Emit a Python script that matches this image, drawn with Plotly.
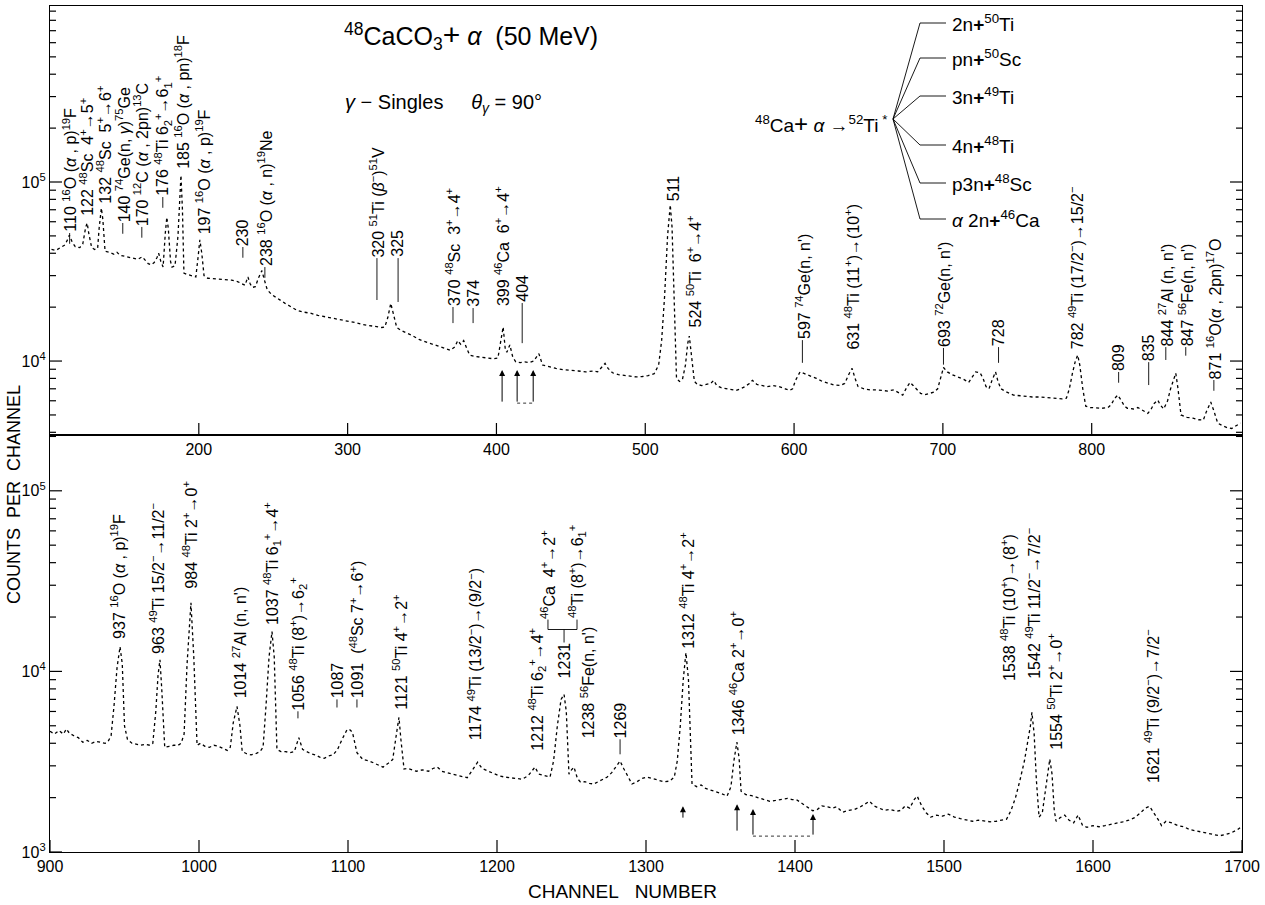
import math
import plotly.graph_objects as go

# ---------------- spectrum data ----------------
top_channel = [101, 104, 107, 110, 112, 113, 115, 117, 120, 122, 124, 125, 126, 128, 130, 132, 133, 134.5, 135.5, 137,
               140, 143, 145, 147, 150, 153, 156, 159, 162, 164, 166, 168, 170, 172, 173, 174.5, 176, 177.5, 178.5, 179.5,
               181, 182, 184, 186, 187.5, 188, 189, 190, 192, 195, 198, 199.5, 200.7, 202, 203.5, 206, 210, 214, 218, 222,
               226, 229, 231, 233, 234.5, 236, 238, 240, 242.4, 244, 246, 249, 252, 255, 258, 262, 266, 270, 275, 280,
               285, 290, 295, 300, 305, 310, 315, 320, 323, 325, 327, 329, 331, 333, 336, 340, 344, 348, 352, 356,
               360, 365, 369, 372, 374, 376, 378, 380, 382, 386, 390, 394, 398, 401, 403, 404.5, 406, 407, 409, 411,
               413, 416, 419, 422, 425, 428.5, 431, 435, 440, 445, 450, 455, 460, 465, 468, 471, 473, 475, 478, 482,
               486, 490, 494, 498, 502, 506, 509, 511, 513, 515, 516.8, 518, 519.5, 521, 523, 525, 527, 528.5, 529.6, 531,
               533, 535, 538, 541, 544, 546, 548, 551, 555, 558, 561, 564, 567, 570, 572, 575, 578, 582, 586, 590,
               594, 597, 599, 601, 604, 607, 611, 615, 619, 623, 627, 631, 634, 637, 639, 641, 643, 647, 651, 655,
               659, 663, 667, 670, 673, 676, 678, 680, 682, 685, 688, 691, 694, 696.5, 698.5, 700.4, 703, 706, 710, 714,
               717.3, 720, 722, 725, 727, 729, 731, 733, 735.4, 737, 739, 743, 747.5, 752, 756, 760, 765, 770, 775, 780,
               783, 785, 787, 789, 790.6, 792, 794, 796, 799, 803, 807, 811, 813, 815.5, 817.5, 820, 822, 824, 828, 831,
               834, 837.7, 840, 842, 844.4, 846, 848.4, 851, 853, 855, 856.5, 858, 860, 864, 868, 872, 875, 877, 880, 882,
               884.7, 888, 891, 894, 897, 900]
top_counts = [42000, 41500, 43000, 44500, 48000, 50500, 46000, 43500, 43000, 45000, 56000, 59000, 52000, 43000, 42000, 42500, 55000, 71500, 62000, 41000,
              40500, 39500, 40500, 39000, 38500, 38000, 37500, 37000, 38200, 36500, 35000, 34500, 35500, 38000, 40000, 36000, 33500, 52000, 63500, 55000,
              36000, 33500, 34000, 50000, 95000, 109000, 70000, 31000, 30500, 30000, 29500, 38000, 47500, 40000, 30000, 29000, 28800, 28600, 28400, 28300,
              27800, 27000, 26500, 29500, 27000, 25800, 26000, 29000, 32000, 28500, 25000, 23500, 22500, 21800, 21000, 20000, 19200, 18800, 18500, 18000,
              17700, 17300, 17000, 16700, 16400, 16000, 15800, 15600, 15400, 15500, 17500, 21000, 18000, 15400, 14800, 14300, 13800, 13200, 12800, 12500,
              12200, 11800, 11500, 12000, 13000, 12400, 13000, 11800, 10800, 10600, 10500, 10400, 10300, 10400, 13000, 15500, 11500, 11200, 12300, 10500,
              9900, 9800, 9900, 9800, 10000, 11000, 9500, 9300, 9100, 8950, 8900, 8800, 8700, 8800, 8700, 9300, 9700, 9100, 8600, 8400,
              8300, 8200, 8150, 8200, 8300, 8500, 9500, 13000, 23000, 50000, 74500, 56000, 20000, 8000, 7700, 7900, 9500, 12500, 13800, 11000,
              7700, 7400, 7300, 7400, 7500, 7800, 7300, 7100, 7000, 6900, 6850, 7000, 7200, 7500, 7800, 7400, 7300, 7200, 7300, 7200,
              7000, 6850, 7000, 7800, 8700, 8500, 8300, 8000, 7700, 7500, 7350, 7300, 7500, 8500, 9100, 8000, 7200, 7000, 6900, 6900,
              6850, 6800, 6900, 6700, 6450, 7200, 7600, 7300, 7000, 6600, 6500, 6600, 6700, 7000, 8200, 9200, 8700, 8400, 8150, 7900,
              7600, 8300, 8700, 8600, 8000, 7200, 7000, 7800, 8700, 7700, 7000, 6700, 6450, 6400, 6350, 6300, 6300, 6250, 6200, 6150,
              6200, 7000, 8500, 10000, 10800, 9500, 7000, 5600, 5500, 5450, 5450, 5500, 5700, 6200, 6450, 6000, 5600, 5450, 5400, 5500,
              5300, 5100, 5400, 5800, 6050, 5700, 5400, 6000, 7000, 8000, 8550, 7000, 5000, 4850, 4800, 4700, 4680, 5200, 5900, 5300,
              4500, 4350, 4250, 4200, 4350, 4500]

bottom_channel = [900, 903, 906, 909, 911, 913, 916, 919, 922, 925, 928, 931, 934, 937, 939, 941, 943, 945, 947, 948.5,
                  950, 952, 955, 958, 961, 964, 967, 969, 971, 972.5, 973.8, 975, 977, 980, 983, 986, 988, 990, 992, 994.6,
                  996.5, 998.7, 1001, 1004, 1007, 1010, 1013, 1016, 1019, 1021, 1023, 1025.5, 1027.5, 1029, 1032, 1035, 1038, 1041, 1043, 1045,
                  1047, 1049, 1050.5, 1052.3, 1055, 1058, 1061, 1064, 1067, 1069.5, 1072, 1075, 1078, 1081, 1084, 1087, 1090, 1093, 1096, 1099,
                  1100.7, 1103, 1106, 1110, 1114, 1118, 1121, 1123.5, 1127, 1130, 1132.5, 1134.2, 1135.5, 1137.6, 1140, 1143, 1146, 1150, 1154, 1157,
                  1160, 1163, 1166, 1170, 1174, 1178, 1180, 1183, 1187, 1190, 1194, 1197, 1201, 1205, 1209, 1213, 1217, 1221, 1225.5, 1228,
                  1232, 1235.6, 1238, 1240.5, 1243, 1245, 1246.5, 1248.3, 1250, 1251.7, 1254, 1256, 1259, 1262, 1265, 1268, 1271, 1274, 1277, 1280,
                  1282.6, 1285, 1288, 1290.6, 1294, 1297, 1300.7, 1304, 1308, 1312, 1316, 1319, 1321, 1323, 1325, 1326.8, 1328.5, 1330.9, 1334, 1337,
                  1340, 1344, 1348, 1351, 1354.4, 1357, 1359, 1361, 1362.5, 1363.8, 1367, 1371, 1375, 1379, 1383, 1387, 1391, 1395, 1398, 1401,
                  1405, 1409, 1412, 1415, 1418, 1422, 1425, 1428, 1432, 1436, 1440, 1444, 1447, 1450, 1453, 1456, 1460, 1464, 1468, 1471,
                  1474, 1477, 1480, 1482, 1485, 1488, 1491, 1495, 1499, 1503, 1507, 1511, 1515, 1519, 1523, 1527, 1531, 1535, 1539, 1542,
                  1545, 1548, 1551, 1554, 1556, 1558, 1559, 1560.5, 1562, 1563.8, 1566, 1568, 1570, 1571, 1572.5, 1574, 1575.2, 1578, 1581, 1584,
                  1587, 1590, 1593, 1596, 1600, 1604, 1608, 1612, 1616, 1620, 1624, 1628, 1632, 1635, 1638, 1641, 1644, 1646, 1649, 1653,
                  1657, 1661, 1665, 1669, 1673, 1677, 1681, 1685, 1689, 1693, 1697, 1700]
bottom_counts = [4660, 4500, 4700, 4500, 4800, 4550, 4400, 4300, 4050, 4150, 4000, 4100, 4050, 4000, 4100, 4400, 6500, 10500, 13700, 11000,
                 5000, 4200, 4000, 3950, 3900, 3950, 3900, 4000, 6000, 9500, 11600, 8000, 3800, 3850, 3900, 3900, 4000, 4500, 11000, 24000,
                 12000, 3900, 4000, 3850, 3800, 3900, 3850, 3750, 3650, 3800, 5200, 6400, 5000, 3600, 3500, 3450, 3500, 3600, 3800, 6500,
                 12000, 16600, 12000, 3700, 3600, 3600, 3550, 3600, 4300, 3700, 3600, 3500, 3450, 3350, 3300, 3400, 3450, 3700, 4200, 4700,
                 4800, 4600, 3550, 3250, 3200, 3100, 3000, 2950, 3100, 3250, 4500, 5570, 4200, 2880, 2900, 2850, 2800, 2850, 2800, 2900,
                 2950, 2800, 2750, 2700, 2650, 2600, 2580, 2800, 3140, 2900, 2800, 2750, 2650, 2600, 2580, 2550, 2530, 2650, 2950, 2700,
                 2650, 2600, 3200, 5000, 7000, 7460, 6000, 2700, 2850, 2950, 2550, 2440, 2450, 2400, 2380, 2450, 2500, 2600, 2750, 3000,
                 3190, 2900, 2600, 2380, 2450, 2550, 2600, 2550, 2500, 2450, 2470, 2600, 3200, 5000, 9000, 12700, 9000, 2380, 2300, 2350,
                 2250, 2200, 2150, 2100, 2040, 2300, 3200, 4060, 3300, 2170, 2080, 2050, 2000, 1950, 1910, 1930, 1960, 1980, 1950, 1950,
                 1850, 1750, 1690, 1720, 1800, 1780, 1750, 1780, 1660, 1700, 1720, 1780, 1850, 1910, 1800, 1750, 1700, 1720, 1680, 1700,
                 1800, 1750, 1950, 2040, 1800, 1650, 1560, 1600, 1580, 1620, 1560, 1530, 1500, 1480, 1500, 1490, 1470, 1480, 1500, 1520,
                 1700, 2000, 2500, 3200, 4000, 5000, 5930, 4500, 2500, 1560, 1650, 2200, 3000, 3270, 2700, 1700, 1480, 1550, 1600, 1500,
                 1450, 1600, 1400, 1370, 1400, 1380, 1400, 1420, 1450, 1470, 1500, 1550, 1650, 1750, 1790, 1650, 1500, 1400, 1480, 1450,
                 1400, 1380, 1330, 1310, 1290, 1280, 1250, 1230, 1250, 1280, 1330, 1390]

# ---------------- peak labels ----------------
top_labels = ["110 <sup>16</sup>O (<i>α</i> , p)<sup>19</sup>F",
              "122 <sup>48</sup>Sc  4<sup>+</sup>→5<sup>+</sup>",
              "132 <sup>48</sup>Sc  5<sup>+</sup>→6<sup>+</sup>",
              "140 <sup>74</sup>Ge(n, <i>γ</i>)<sup>75</sup>Ge",
              "170 <sup>12</sup>C (<i>α</i> , 2pn)<sup>13</sup>C",
              "176 <sup>48</sup>Ti 6<sub>2</sub><sup>+</sup>→6<sub>1</sub><sup>+</sup>",
              "185 <sup>16</sup>O (<i>α</i> , pn)<sup>18</sup>F",
              "197 <sup>16</sup>O (<i>α</i> , p)<sup>19</sup>F",
              "230",
              "238 <sup>16</sup>O (<i>α</i> , n)<sup>19</sup>Ne",
              "320 <sup>51</sup>Ti (<i>β</i><sup>−</sup>)<sup>51</sup>V",
              "325",
              "370 <sup>48</sup>Sc  3<sup>+</sup>→4<sup>+</sup>",
              "374",
              "399 <sup>46</sup>Ca  6<sup>+</sup>→4<sup>+</sup>",
              "404",
              "511",
              "524 <sup>50</sup>Ti  6<sup>+</sup>→4<sup>+</sup>",
              "597 <sup>74</sup>Ge(n, n')",
              "631 <sup>48</sup>Ti (11<sup>+</sup>)→(10<sup>+</sup>)",
              "693 <sup>72</sup>Ge(n, n')",
              "728",
              "782 <sup>49</sup>Ti (17/2<sup>−</sup>)→15/2<sup>−</sup>",
              "809",
              "835",
              "844 <sup>27</sup>Al (n, n')",
              "847 <sup>56</sup>Fe(n, n')",
              "871 <sup>16</sup>O(<i>α</i> , 2pn)<sup>17</sup>O"]
top_label_channel = [113.2, 124.7, 136.1, 148.9, 161.7, 175.8, 188.6, 202.7, 229.6, 244.4,
                     319.7, 333.9, 370.8, 384.3, 403.8, 417.3, 518.8, 533.0, 605.6, 639.2,
                     700.4, 737.4, 789.2, 818.1, 838.3, 849.8, 863.2, 882.1]
top_label_log = [4.715, 4.804, 4.872, 4.771, 4.749, 4.916, 5.067, 4.704, 4.637, 4.525,
                 4.575, 4.575, 4.302, 4.296, 4.302, 4.324, 4.888, 4.184, 4.117, 4.061,
                 4.073, 4.078, 4.061, 3.939, 3.994, 4.078, 4.078, 3.894]
# log10 value where each label's leader line ends (None = no leader)
top_leader_end = [4.655, None, None, 4.711, 4.689, 4.856, None, None, 4.577, 4.465,
                  4.341, 4.33, 4.212, 4.212, None, 4.10, None, None, 3.99, None,
                  3.98, 3.99, None, 3.879, 3.866, 4.006, 4.03, 3.834]

bottom_labels = ["937 <sup>16</sup>O (<i>α</i> , p)<sup>19</sup>F",
                 "963 <sup>49</sup>Ti 15/2<sup>−</sup>→11/2<sup>−</sup>",
                 "984 <sup>48</sup>Ti 2<sup>+</sup>→0<sup>+</sup>",
                 "1014 <sup>27</sup>Al (n, n')",
                 "1037 <sup>48</sup>Ti 6<sub>1</sub><sup>+</sup>→4<sup>+</sup>",
                 "1056 <sup>48</sup>Ti (8<sup>+</sup>)→6<sub>2</sub><sup>+</sup>",
                 "1087",
                 "1091  (<sup>48</sup>Sc 7<sup>+</sup>→6<sup>+</sup>)",
                 "1121 <sup>50</sup>Ti 4<sup>+</sup>→2<sup>+</sup>",
                 "1174 <sup>49</sup>Ti (13/2<sup>−</sup>)→(9/2<sup>−</sup>)",
                 "1212 <sup>48</sup>Ti 6<sub>2</sub><sup>+</sup>→4<sup>+</sup>",
                 "1231",
                 "<sup>46</sup>Ca  4<sup>+</sup>→2<sup>+</sup>",
                 "<sup>48</sup>Ti (8<sup>+</sup>)→6<sub>1</sub><sup>+</sup>",
                 "1238 <sup>56</sup>Fe(n, n')",
                 "1269",
                 "1312 <sup>48</sup>Ti 4<sup>+</sup>→2<sup>+</sup>",
                 "1346 <sup>46</sup>Ca 2<sup>+</sup>→0<sup>+</sup>",
                 "1538 <sup>48</sup>Ti (10<sup>+</sup>)→(8<sup>+</sup>)",
                 "1542 <sup>49</sup>Ti 11/2<sup>−</sup>→7/2<sup>−</sup>",
                 "1554 <sup>50</sup>Ti 2<sup>+</sup>→0<sup>+</sup>",
                 "1621 <sup>49</sup>Ti (9/2<sup>−</sup>)→7/2<sup>−</sup>"]
bottom_label_channel = [945.6, 971.8, 994.0, 1027.5, 1049.0, 1066.4, 1092.6, 1106.0, 1134.9, 1185.2,
                        1226.8, 1245.0, 1234.2, 1253.7, 1261.1, 1282.6, 1327.5, 1361.1, 1543.0, 1559.7,
                        1574.5, 1639.6]
bottom_label_log = [4.177, 4.094, 4.453, 3.845, 4.249, 3.779, 3.845, 3.845, 3.779, 3.613,
                    3.558, 3.956, 4.287, 4.287, 3.624, 3.624, 4.122, 3.641, 3.939, 3.956,
                    3.558, 3.376]
bottom_leader_end = [None, None, None, None, None, 3.74, 3.80, 3.80, None, None,
                     None, None, None, None, None, 3.541, None, None, None, None,
                     None, None]

# marker arrows (channel, tail log, head log)
top_arrow_channel = [403.8, 413.9, 424.7]
top_arrow_tail = [3.765, 3.765, 3.765]
top_arrow_head = [3.95, 3.95, 3.95]
bottom_arrow_channel = [1324.8, 1361.1, 1371.8, 1412.1]
bottom_arrow_tail = [3.182, 3.110, 3.088, 3.088]
bottom_arrow_head = [3.254, 3.265, 3.238, 3.210]

decay_channels = ["2n<b>+</b><sup>50</sup>Ti", "pn<b>+</b><sup>50</sup>Sc", "3n<b>+</b><sup>49</sup>Ti",
                  "4n<b>+</b><sup>48</sup>Ti", "p3n<b>+</b><sup>48</sup>Sc", "<i>α</i> 2n<b>+</b><sup>46</sup>Ca"]

# axis ticks
top_x_ticks = [200, 300, 400, 500, 600, 700, 800]
bottom_x_ticks = [900, 1000, 1100, 1200, 1300, 1400, 1500, 1600, 1700]
top_y_major = [1e4, 1e5]
bottom_y_major = [1e3, 1e4, 1e5]
y_minor = [v * m for v in (1e3, 1e4, 1e5) for m in range(2, 10)]

# ---------------- layout geometry ----------------
W, H = 1265, 905
ML, MR, MT, MB = 50, 23, 6, 53
PLOT_W, PLOT_H = W - ML - MR, H - MT - MB
def PX(px):
    return (px - ML) / PLOT_W
def PY(py):
    return (H - MB - py) / PLOT_H
def D(lg):
    # shapes on log axes take data values
    return 10 ** lg
split = PY(435)
FONT = "Liberation Sans, Arial, sans-serif"
TOP_X = [100, 901]
BOT_X = [900, 1700]
TOP_RANGE = [3.587, 5.983]
BOT_RANGE = [3, 5.309]

fig = go.Figure()
trace_style = dict(mode="lines", line=dict(color="black", width=1.3, dash="dot"),
                   showlegend=False, hoverinfo="skip")
fig.add_trace(go.Scatter(x=top_channel, y=top_counts, xaxis="x", yaxis="y", **trace_style))
fig.add_trace(go.Scatter(x=bottom_channel, y=bottom_counts, xaxis="x2", yaxis="y2", **trace_style))

axis_common = dict(showline=True, linecolor="black", linewidth=1.3, showgrid=False, zeroline=False,
                   ticks="", tickfont=dict(family=FONT, size=16, color="black"), mirror=True)
fig.update_layout(
    width=W, height=H, margin=dict(l=ML, r=MR, t=MT, b=MB),
    paper_bgcolor="white", plot_bgcolor="white",
    xaxis=dict(domain=[0, 1], anchor="y", range=TOP_X, tickvals=top_x_ticks, **axis_common),
    yaxis=dict(domain=[split, 1], anchor="x", type="log", range=TOP_RANGE,
               tickvals=top_y_major, ticktext=["10<sup>4</sup>", "10<sup>5</sup>"], **axis_common),
    xaxis2=dict(domain=[0, 1], anchor="y2", range=BOT_X, tickvals=bottom_x_ticks, **axis_common),
    yaxis2=dict(domain=[0, split], anchor="x2", type="log", range=BOT_RANGE,
                tickvals=bottom_y_major, ticktext=["10<sup>3</sup>", "10<sup>4</sup>", "10<sup>5</sup>"],
                **axis_common),
)

ann = []
shapes = []
lab_font = dict(family=FONT, size=16, color="black")
thin = dict(color="black", width=0.9)
tick_line = dict(color="black", width=1.2)

# tick marks drawn inside the frames, lengths converted from pixels to axis units
def panel_ticks(xvals, yvals, xr, yr, xrng, yrng, height_frac):
    ch_per_px = (xrng[1] - xrng[0]) / PLOT_W
    dec_per_px = (yrng[1] - yrng[0]) / (PLOT_H * height_frac)
    for v in yvals:
        lv = math.log10(v)
        if yrng[0] - 1e-9 <= lv <= yrng[1]:
            ln = 12 if abs(lv - round(lv)) < 1e-9 else 6
            for x0, sgn in ((xrng[0], 1), (xrng[1], -1)):
                shapes.append(dict(type="line", xref=xr, yref=yr, x0=x0, x1=x0 + sgn * ln * ch_per_px,
                                   y0=v, y1=v, line=tick_line))
    for v in xvals:
        shapes.append(dict(type="line", xref=xr, yref=yr, x0=v, x1=v,
                           y0=D(yrng[0]), y1=D(yrng[0] + 12 * dec_per_px), line=tick_line))

panel_ticks(top_x_ticks, top_y_major + y_minor, "x", "y", TOP_X, TOP_RANGE, 1 - split)
panel_ticks(bottom_x_ticks, bottom_y_major + y_minor, "x2", "y2", BOT_X, BOT_RANGE, split)

def add_labels(texts, chans, logs, leaders, xr, yr):
    for t, c, lg, le in zip(texts, chans, logs, leaders):
        ann.append(dict(x=c, y=lg, xref=xr, yref=yr, text=t, textangle=-90, showarrow=False,
                        xanchor="center", yanchor="bottom", font=lab_font, borderpad=0))
        if le is not None:
            shapes.append(dict(type="line", xref=xr, yref=yr, x0=c, x1=c, y0=D(lg), y1=D(le), line=thin))

add_labels(top_labels, top_label_channel, top_label_log, top_leader_end, "x", "y")
add_labels(bottom_labels, bottom_label_channel, bottom_label_log, bottom_leader_end, "x2", "y2")

# bracket joining the 1231 doublet labels
bx_l, bx_m, bx_r = bottom_label_channel[12], bottom_label_channel[11], bottom_label_channel[13]
b_top, b_mid, b_low = 4.287, 4.232, 4.16
for x0, y0, x1, y1 in [(bx_l, b_top, bx_l, b_mid), (bx_l, b_mid, bx_r, b_mid),
                       (bx_r, b_mid, bx_r, b_top), (bx_m, b_mid, bx_m, b_low)]:
    shapes.append(dict(type="line", xref="x2", yref="y2", x0=x0, y0=D(y0), x1=x1, y1=D(y1), line=thin))

for c, t, h in zip(top_arrow_channel, top_arrow_tail, top_arrow_head):
    ann.append(dict(x=c, y=h, ax=c, ay=t, xref="x", yref="y", axref="x", ayref="y", text="",
                    showarrow=True, arrowhead=2, arrowsize=1.2, arrowwidth=1, arrowcolor="black"))
shapes.append(dict(type="line", xref="x", yref="y", x0=top_arrow_channel[1], x1=top_arrow_channel[2],
                   y0=D(top_arrow_tail[1]), y1=D(top_arrow_tail[2]), line=dict(color="black", width=0.8, dash="dot")))
for c, t, h in zip(bottom_arrow_channel, bottom_arrow_tail, bottom_arrow_head):
    ann.append(dict(x=c, y=h, ax=c, ay=t, xref="x2", yref="y2", axref="x2", ayref="y2", text="",
                    showarrow=True, arrowhead=2, arrowsize=1.2, arrowwidth=1, arrowcolor="black"))
shapes.append(dict(type="line", xref="x2", yref="y2", x0=bottom_arrow_channel[2], x1=bottom_arrow_channel[3],
                   y0=D(bottom_arrow_tail[2]), y1=D(bottom_arrow_tail[3]), line=dict(color="black", width=0.8, dash="dot")))

# header texts
ann.append(dict(x=PX(342), y=PY(36), xref="paper", yref="paper", xanchor="left", yanchor="middle", showarrow=False,
                text="<sup>48</sup>CaCO<sub>3</sub><span style='font-size:30px'>+</span> <i>α</i>  (50 MeV)",
                font=dict(family=FONT, size=25, color="black")))
ann.append(dict(x=PX(343), y=PY(103), xref="paper", yref="paper", xanchor="left", yanchor="middle", showarrow=False,
                text="<i>γ</i> − Singles\u00a0\u00a0\u00a0\u00a0\u00a0<i>θ</i><sub><i>γ</i></sub> = 90°",
                font=dict(family=FONT, size=20, color="black")))
ann.append(dict(x=PX(753), y=PY(123), xref="paper", yref="paper", xanchor="left", yanchor="middle", showarrow=False,
                text="<sup>48</sup>Ca<span style='font-size:24px'>+</span> <i>α</i> →<sup>52</sup>Ti<sup> *</sup>",
                font=dict(family=FONT, size=19, color="black")))
branch_y = [23, 58, 96, 145, 183, 219]
for txt, by in zip(decay_channels, branch_y):
    shapes.append(dict(type="path", xref="paper", yref="paper",
                       path=f"M {PX(893)} {PY(119)} L {PX(920)} {PY(by)} L {PX(946)} {PY(by)}",
                       line=thin))
    ann.append(dict(x=PX(950), y=PY(by), xref="paper", yref="paper", xanchor="left", yanchor="middle",
                    showarrow=False, text=txt, font=dict(family=FONT, size=19, color="black")))

# axis titles
ann.append(dict(x=PX(14), y=PY(495), xref="paper", yref="paper", xanchor="center", yanchor="middle",
                showarrow=False, textangle=-90, text="COUNTS\u00a0 PER\u00a0 CHANNEL",
                font=dict(family=FONT, size=18, color="black")))
ann.append(dict(x=PX(622), y=PY(891), xref="paper", yref="paper", xanchor="center", yanchor="middle",
                showarrow=False, text="CHANNEL\u00a0\u00a0 NUMBER", font=dict(family=FONT, size=19, color="black")))

fig.update_layout(annotations=ann, shapes=shapes)
fig.write_html("out.html", post_script="document.body.style.margin='0';", config={"displayModeBar": False})
